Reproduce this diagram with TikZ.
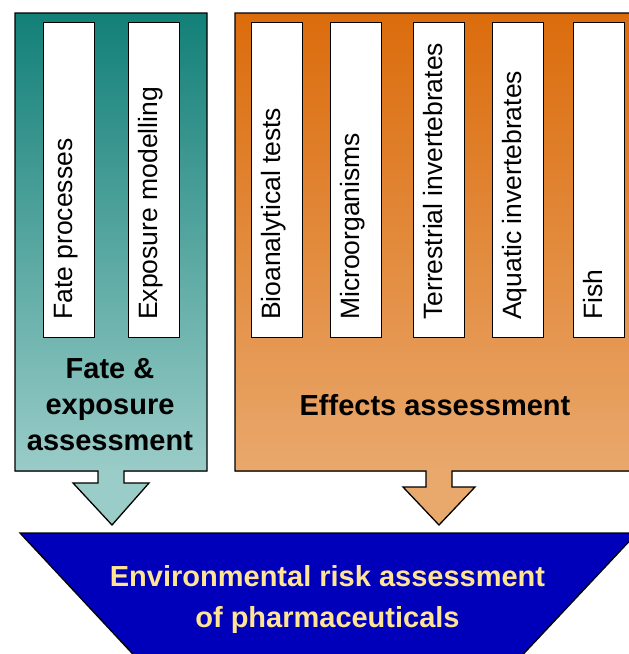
\documentclass[tikz,border=0pt]{standalone}
\usepackage{fontspec}
\setmainfont{Liberation Sans}
\definecolor{tealtop}{RGB}{18,128,120}
\definecolor{tealbot}{RGB}{154,204,200}
\definecolor{orgtop}{RGB}{219,108,12}
\definecolor{orgbot}{RGB}{233,168,108}
\definecolor{blueb}{RGB}{0,0,187}
\definecolor{ytext}{RGB}{255,228,148}
\tikzset{
  outline/.style={draw=black, line width=1.3pt, line join=miter},
  wbox/.style={draw=black, fill=white, line width=1pt, minimum width=51pt, minimum height=315pt, inner sep=0pt},
  vlabel/.style={rotate=90, anchor=west, inner sep=0pt, text height=0.72em, text depth=0pt, font=\fontsize{26.5}{32}\selectfont},
  blabel/.style={anchor=base, inner sep=0pt, font=\bfseries\fontsize{29}{35}\selectfont},
  ylabel/.style={blabel, text=ytext}
}
\begin{document}
\begin{tikzpicture}[x=1pt,y=-1pt]
\useasboundingbox (0,0) rectangle (629,654);
\clip (0,0) rectangle (629,654);
% teal panel with arrow
\shade[top color=tealtop, bottom color=tealbot] (15,13) rectangle (207,471);
\fill[tealbot] (98,470) -- (124,470) -- (124,483) -- (149,483) -- (112,525) -- (73,483) -- (98,483) -- cycle;
\draw[outline] (15,13) -- (207,13) -- (207,471) -- (124,471) -- (124,483) -- (149,483) -- (112,525) -- (73,483) -- (98,483) -- (98,471) -- (15,471) -- cycle;
% orange panel with arrow
\shade[top color=orgtop, bottom color=orgbot] (235,13) rectangle (640,471);
\fill[orgbot] (426,470) -- (452,470) -- (452,487) -- (475,487) -- (439,525) -- (403,487) -- (426,487) -- cycle;
\draw[outline] (235,13) -- (640,13) -- (640,471) -- (452,471) -- (452,487) -- (475,487) -- (439,525) -- (403,487) -- (426,487) -- (426,471) -- (235,471) -- cycle;
% blue trapezoid
\draw[outline, fill=blueb] (20,533) -- (637,533) -- (499,680) -- (157,680) -- cycle;
% white boxes
\node[wbox] (b1) at (68.5,179.5) {};
\node[wbox] (b2) at (153.5,179.5) {};
\node[wbox] (c1) at (277,179.5) {};
\node[wbox] (c2) at (356,179.5) {};
\node[wbox] (c3) at (439,179.5) {};
\node[wbox] (c4) at (517.5,179.5) {};
\node[wbox] (c5) at (599,179.5) {};
% vertical labels
\node[vlabel] (lb1) at (68.5,320) {Fate processes};
\node[vlabel] (lb2) at (153.5,320) {Exposure modelling};
\node[vlabel] (lc1) at (277,320) {Bioanalytical tests};
\node[vlabel] (lc2) at (356,320) {Microorganisms};
\node[vlabel] (lc3) at (439,320) {Terrestrial invertebrates};
\node[vlabel] (lc4) at (517.5,320) {Aquatic invertebrates};
\node[vlabel] (lc5) at (599,320) {Fish};
% panel titles
\node[blabel] (fa) at (110,378) {Fate \&};
\node[blabel] (fb) at (110,414) {exposure};
\node[blabel] (fc) at (110,450) {assessment};
\node[blabel] (ea) at (435,415) {Effects assessment};
% bottom title
\node[ylabel] (ra) at (327.5,586) {Environmental risk assessment};
\node[ylabel] (rb) at (327.5,627) {of pharmaceuticals};
\end{tikzpicture}
\end{document}
